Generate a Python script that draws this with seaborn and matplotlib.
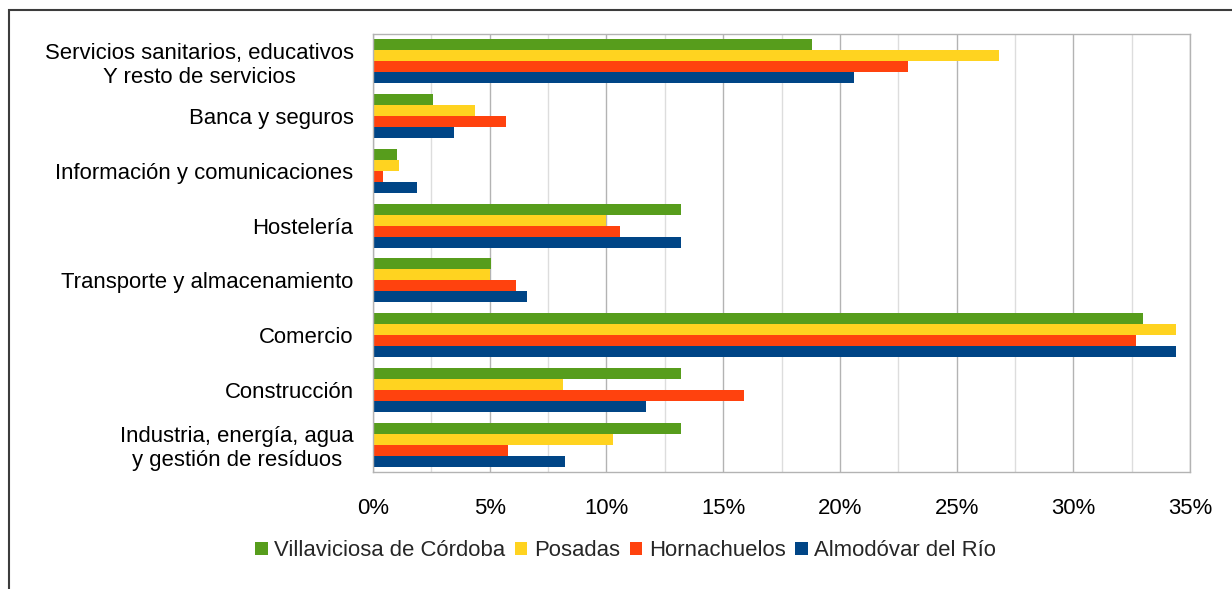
import numpy as np
import pandas as pd
import matplotlib
matplotlib.use("Agg")
import matplotlib.pyplot as plt
from matplotlib.patches import Rectangle
from matplotlib.ticker import FuncFormatter, MultipleLocator
import seaborn as sns

# data (share of employment by sector, %)
sectors = ["Servicios sanitarios, educativos\nY resto de servicios",
           "Banca y seguros",
           "Información y comunicaciones",
           "Hostelería",
           "Transporte y almacenamiento",
           "Comercio",
           "Construcción",
           "Industria, energía, agua\ny gestión de resíduos"]
towns = ["Villaviciosa de Córdoba", "Posadas", "Hornachuelos", "Almodóvar del Río"]
villaviciosa = [18.8, 2.56, 1.02, 13.2, 5.07, 33.0, 13.2, 13.2]
posadas = [26.8, 4.35, 1.11, 10.0, 5.03, 34.4, 8.12, 10.3]
hornachuelos = [22.9, 5.71, 0.43, 10.6, 6.14, 32.7, 15.9, 5.77]
almodovar = [20.6, 3.45, 1.88, 13.2, 6.61, 34.4, 11.7, 8.23]
colors = ["#579D1C", "#FFD320", "#FF420E", "#004586"]

df = pd.DataFrame({
    "sector": sectors * 4,
    "town": np.repeat(towns, len(sectors)),
    "pct": villaviciosa + posadas + hornachuelos + almodovar,
})

sns.set_style("white")
plt.rcParams["font.family"] = ["Liberation Sans", "DejaVu Sans"]
fs = 15.9

fig = plt.figure(figsize=(12.32, 5.89), dpi=100)
ax = fig.add_axes([373 / 1232, 1 - 472 / 589, (1190 - 373) / 1232, (472 - 34) / 589])

sns.barplot(data=df, y="sector", x="pct", hue="town", order=sectors,
            hue_order=towns, palette=colors, orient="h", width=0.8,
            saturation=1, linewidth=0, ax=ax)

ax.set_xlim(0, 35)
ax.set_ylim(len(sectors) - 0.5, -0.5)
ax.xaxis.set_major_locator(MultipleLocator(5))
ax.xaxis.set_minor_locator(MultipleLocator(2.5))
ax.xaxis.set_major_formatter(FuncFormatter(lambda v, p: f"{v:.0f}%"))
ax.set_yticks(np.arange(-0.5, len(sectors), 1.0), minor=True)

ax.set_axisbelow(True)
ax.grid(axis="x", which="major", color="#b3b3b3", lw=1)
ax.grid(axis="x", which="minor", color="#dddddd", lw=1)
ax.grid(axis="y", visible=False)
for s in ax.spines.values():
    s.set_color("#b3b3b3")
    s.set_linewidth(1)

ax.tick_params(axis="x", which="major", direction="out", length=8, width=1,
               color="#b3b3b3", pad=11, labelsize=fs, labelcolor="black")
ax.tick_params(axis="x", which="minor", length=0)
ax.tick_params(axis="y", which="major", length=0, pad=14, labelsize=fs,
               labelcolor="black")
ax.tick_params(axis="y", which="minor", direction="out", length=8, width=1,
               color="#b3b3b3")
for lab in ax.get_yticklabels():
    lab.set_multialignment("center")

ax.set_xlabel("")
ax.set_ylabel("")

handles, labels = ax.get_legend_handles_labels()
ax.legend_.remove()
fig.legend(handles, labels, loc="center", bbox_to_anchor=(0.508, 1 - 551 / 589),
           ncol=4, frameon=False, fontsize=fs, handlelength=0.55,
           handleheight=0.55, handletextpad=0.3, columnspacing=0.45)

# outer chart frame (cut off by the image edges)
fig.patches.append(Rectangle((9 / 1232, -0.1), 1.2, 1.1 - 10 / 589,
                             transform=fig.transFigure, fill=False,
                             edgecolor="#3c3c3c", lw=1.5))

fig.savefig("out.png", dpi=100)
